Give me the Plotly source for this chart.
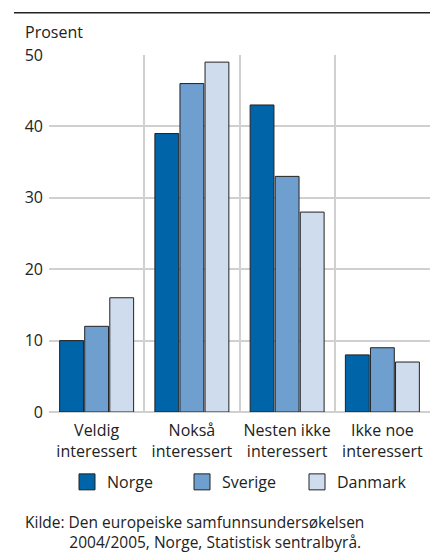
import plotly.graph_objects as go

categories = ["Veldig<br>interessert", "Nokså<br>interessert", "Nesten ikke<br>interessert", "Ikke noe<br>interessert"]
series_names = ["Norge", "Sverige", "Danmark"]
norge = [10, 39, 43, 8]
sverige = [12, 46, 33, 9]
danmark = [16, 49, 28, 7]
y_ticks = [0, 10, 20, 30, 40, 50]
colors = ["#0064a8", "#6f9fcf", "#cfdcee"]

FONT = "Open Sans"
TXT = "#222222"
GRID = "#d0d0d0"

fig = go.Figure()
for name, vals, col in zip(series_names, [norge, sverige, danmark], colors):
    fig.add_trace(go.Bar(x=categories, y=vals, name=name, marker_color=col,
                         marker_line_color="#222222", marker_line_width=1,
                         showlegend=False))
    fig.add_trace(go.Scatter(x=[None], y=[None], mode="markers", name=name,
                             marker=dict(symbol="square", size=18, color=col,
                                         line=dict(color="#222222", width=1))))

fig.update_layout(
    width=430, height=554,
    margin=dict(l=49, r=0, t=55, b=142),
    paper_bgcolor="white", plot_bgcolor="white",
    font=dict(family=FONT, size=16, color=TXT),
    barmode="group", bargap=0.21, bargroupgap=0.05,
    showlegend=True,
    legend=dict(orientation="h", x=0.5, xanchor="center", y=-0.196, yanchor="middle",
                font=dict(size=16, color=TXT), itemwidth=30,
                entrywidth=70, entrywidthmode="pixels", itemsizing="trace"),
    xaxis=dict(tickson="boundaries", showgrid=True, gridcolor=GRID, gridwidth=2,
               ticks="", showline=False, ticklabelstandoff=7,
               tickfont=dict(size=16, color=TXT)),
    yaxis=dict(range=[0, 50], tickvals=y_ticks, showgrid=True, gridcolor=GRID, gridwidth=2,
               zeroline=True, zerolinecolor=GRID, zerolinewidth=2, ticks="",
               showline=False, ticklabelstandoff=5, tickfont=dict(size=16, color=TXT)),
)

fig.add_annotation(text="Prosent", xref="paper", yref="paper", x=-0.068, y=1.064,
                   xanchor="left", yanchor="middle", showarrow=False,
                   font=dict(size=16, color=TXT))
source_text = ("Kilde: Den europeiske samfunnsundersøkelsen<br>"
               + "\u00a0" * 11 + "2004/2005, Norge, Statistisk sentralbyrå.")
fig.add_annotation(text=source_text, xref="paper", yref="paper", align="left",
                   x=-0.068, y=-0.3375, xanchor="left", yanchor="middle", showarrow=False,
                   font=dict(size=15.5, color=TXT))
fig.add_shape(type="line", xref="paper", yref="paper", x0=-0.092, x1=1.0, y0=1.118, y1=1.118,
              line=dict(color="#222222", width=1.5))

fig.write_html("out.html", config={"displayModeBar": False},
               post_script="document.body.style.margin='0';document.body.style.overflow='hidden';")
